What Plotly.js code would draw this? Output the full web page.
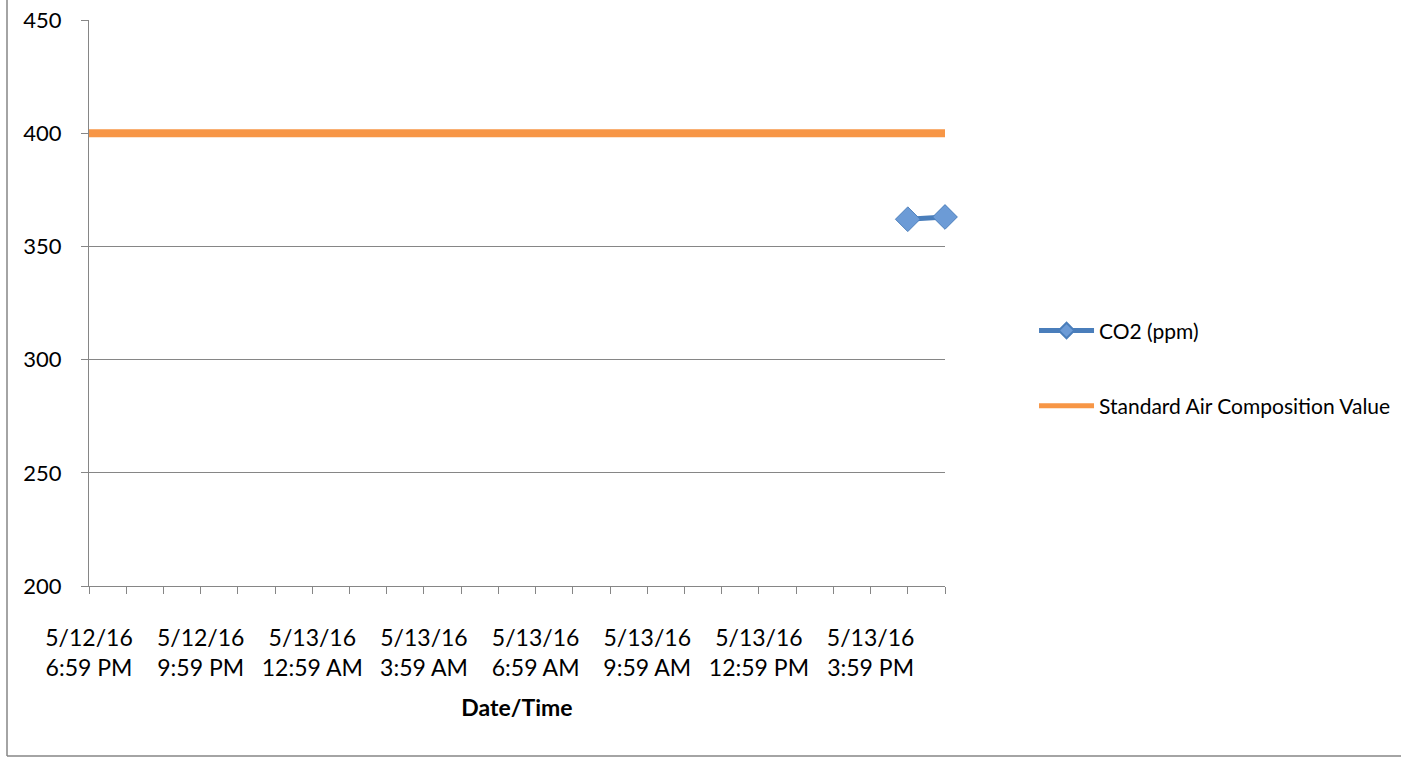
<!DOCTYPE html>
<html>
<head>
<meta charset="utf-8">
<script src="https://cdn.plot.ly/plotly-3.0.1.min.js"></script>
<style>html,body{margin:0;padding:0;background:#fff;}#chart{width:1401px;height:757px;}</style>
</head>
<body>
<div id="chart"></div>
<script>
// Hourly categories (5/12/16 6:59 PM .. 5/13/16 5:59 PM, 24 categories)
const categories = [
  "5/12/16 6:59 PM","5/12/16 7:59 PM","5/12/16 8:59 PM","5/12/16 9:59 PM",
  "5/12/16 10:59 PM","5/12/16 11:59 PM","5/13/16 12:59 AM","5/13/16 1:59 AM",
  "5/13/16 2:59 AM","5/13/16 3:59 AM","5/13/16 4:59 AM","5/13/16 5:59 AM",
  "5/13/16 6:59 AM","5/13/16 7:59 AM","5/13/16 8:59 AM","5/13/16 9:59 AM",
  "5/13/16 10:59 AM","5/13/16 11:59 AM","5/13/16 12:59 PM","5/13/16 1:59 PM",
  "5/13/16 2:59 PM","5/13/16 3:59 PM","5/13/16 4:59 PM","5/13/16 5:59 PM"
];
const tickLabels = [
  "5/12/16<br>6:59 PM","","","5/12/16<br>9:59 PM","","",
  "5/13/16<br>12:59 AM","","","5/13/16<br>3:59 AM","","",
  "5/13/16<br>6:59 AM","","","5/13/16<br>9:59 AM","","",
  "5/13/16<br>12:59 PM","","","5/13/16<br>3:59 PM","",""
];
const co2 = [null,null,null,null,null,null,null,null,null,null,null,null,
             null,null,null,null,null,null,null,null,null,null,362,363];
const standardAir = [400,400,400,400,400,400,400,400,400,400,400,400,
                     400,400,400,400,400,400,400,400,400,400,400,400];
const yTicks = [200,250,300,350,400,450];

const FONT = "Lato, 'Open Sans', sans-serif";
const GRAY = "#868686";

const traces = [
  {
    x: categories, y: co2, name: "CO2 (ppm)", type: "scatter", mode: "lines+markers",
    legendgroup: "a", cliponaxis: false,
    line: {color: "#4A7EBB", width: 5},
    marker: {symbol: "diamond", size: 19, color: "#6C9BD6", line: {color: "#4A7EBB", width: 1}}
  },
  {
    x: categories, y: standardAir, name: "Standard Air Composition Value", type: "scatter", mode: "lines",
    legendgroup: "b", cliponaxis: false,
    line: {color: "#F79646", width: 8}
  }
];

const layout = {
  width: 1401, height: 757, autosize: false,
  margin: {l: 89, r: 456, t: 20, b: 171, pad: 0, autoexpand: false},
  paper_bgcolor: "#ffffff", plot_bgcolor: "#ffffff",
  font: {family: FONT, color: "#000000", size: 22},
  showlegend: true,
  legend: {
    x: 1.104, xanchor: "left", y: 0.487, yanchor: "top",
    font: {family: FONT, size: 21, color: "#000"},
    itemwidth: 55, itemsizing: "constant",
    tracegroupgap: 45, bgcolor: "rgba(0,0,0,0)"
  },
  xaxis: {
    type: "category", range: [0, 23],
    tickmode: "array", tickvals: categories, ticktext: tickLabels,
    showgrid: false, zeroline: false,
    showline: true, linecolor: GRAY, linewidth: 1,
    ticks: "outside", ticklen: 7, tickcolor: GRAY, tickwidth: 1,
    tickangle: 0, ticklabelstandoff: 24, automargin: false,
    tickfont: {family: FONT, size: 23, color: "#000"},
    title: {text: "<b>Date/Time</b>", font: {family: FONT, size: 23, color: "#000"}, standoff: 20}
  },
  yaxis: {
    range: [200, 450], tickmode: "array", tickvals: yTicks,
    showgrid: true, gridcolor: GRAY, gridwidth: 1,
    zeroline: false, showline: true, linecolor: GRAY, linewidth: 1,
    ticks: "outside", ticklen: 7, tickcolor: GRAY, tickwidth: 1,
    ticklabelstandoff: 15, automargin: false,
    tickfont: {family: FONT, size: 22, color: "#000"}
  },
  shapes: [
    {type: "line", xref: "paper", yref: "paper",
     x0: (7 - 89) / 856, x1: (7 - 89) / 856,
     y0: (586 - 756) / 566, y1: (586 + 10) / 566,
     line: {color: GRAY, width: 1.5}, layer: "below"},
    {type: "line", xref: "paper", yref: "paper",
     x0: (7 - 89) / 856, x1: (1450 - 89) / 856,
     y0: (586 - 756) / 566, y1: (586 - 756) / 566,
     line: {color: GRAY, width: 1.5}, layer: "below"}
  ]
};

Plotly.newPlot("chart", traces, layout, {displayModeBar: false, staticPlot: true});
</script>
</body>
</html>
